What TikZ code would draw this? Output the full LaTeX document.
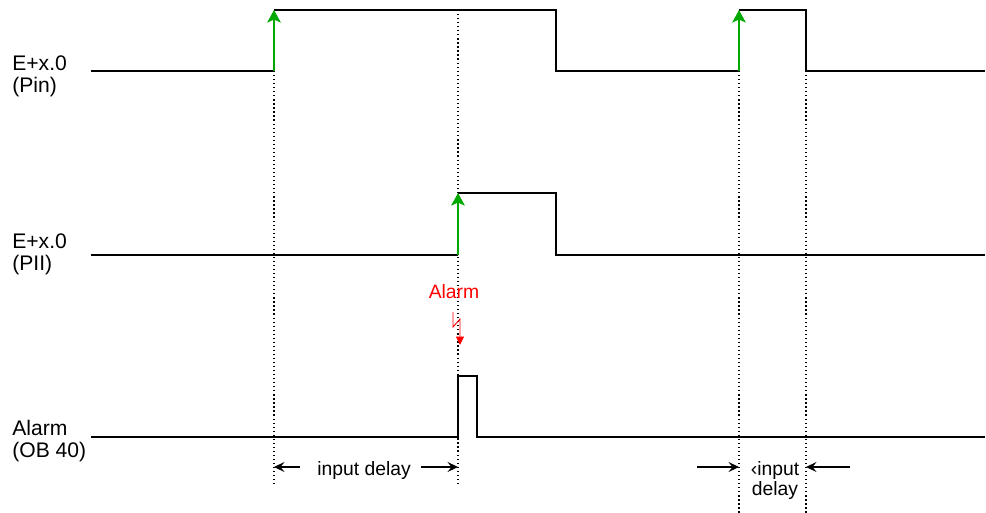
\documentclass[tikz,border=0pt]{standalone}
\usepackage{fontspec}
\setmainfont{Liberation Sans}
\usetikzlibrary{arrows.meta,positioning}
\definecolor{edgegreen}{HTML}{00A800}
\definecolor{alarmred}{HTML}{FF0000}

\begin{document}
\begin{tikzpicture}[x=0.02cm,y=-0.02cm,
  wave/.style={line width=1.15pt,line join=miter},
  rise/.style={edgegreen,line width=1.4pt,-{Stealth[length=0.25cm,width=0.27cm,inset=0.06cm]}},
  guide/.style={line width=0.6pt,dash pattern=on 0.7pt off 1.6pt},
  span/.style={line width=0.6pt,-{Stealth[length=0.21cm,width=0.2cm,inset=0.08cm]}},
  lbl/.style={font=\fontsize{12}{12.6}\selectfont,inner sep=0pt,align=left},
  note/.style={font=\fontsize{11}{11.4}\selectfont,inner sep=0pt,align=center}]
\useasboundingbox (0,0) rectangle (986,513);

% dotted guides
\coordinate (ga) at (274,71);  \coordinate (gaend) at (274,485);
\coordinate (gb) at (458,10);  \coordinate (gbend) at (458,485);
\coordinate (gc) at (739,71);  \coordinate (gcend) at (739,513);
\coordinate (gd) at (806,71);  \coordinate (gdend) at (806,513);
\foreach \g in {ga,gb,gc,gd}
  \draw[guide] (\g) -- (\g end);

% signal labels
\node[lbl,anchor=north west] (pin) at (12,55) {E+x.0\\(Pin)};
\node[lbl,anchor=north west] (pii) at (12,233) {E+x.0\\(PII)};
\node[lbl,anchor=north west] (ob) at (12,420) {Alarm\\(OB 40)};

% E+x.0 (Pin)
\coordinate (pa) at (274,71); \coordinate (pah) at (274,10);
\coordinate (pb) at (739,71); \coordinate (pbh) at (739,10);
\draw[wave] (91,71) -- (pa);
\draw[wave] (pah) -- (556,10) -- (556,71) -- (pb);
\draw[wave] (pbh) -- (806,10) -- (806,71) -- (985,71);
\draw[rise] (pa) -- (pah);
\draw[rise] (pb) -- (pbh);

% E+x.0 (PII)
\coordinate (ia) at (458,255); \coordinate (iah) at (458,193);
\draw[wave] (91,255) -- (ia);
\draw[wave] (iah) -- (556,193) -- (556,255) -- (985,255);
\draw[rise] (ia) -- (iah);

% Alarm (OB 40)
\draw[wave] (91,437) -- (458,437) -- (458,376) -- (477,376) -- (477,437) -- (985,437);

% interrupt
\node[note,text=alarmred,anchor=base] (alarm) at (454,298) {Alarm};
\coordinate (bolt) at (453,312);
\coordinate (hit) at (460,345);
\draw[alarmred,line width=0.5pt,-{Triangle[length=0.17cm,width=0.16cm]}]
  (bolt) -- (453,327) -- (460,319) -- (hit);

% input delays
\node[note,anchor=base] (dl1) at (364,475) {input delay};
\coordinate (dl1l) at (300,467); \coordinate (dl1r) at (421,467);
\draw[span] (dl1l) -- (274,467);
\draw[span] (dl1r) -- (458,467);
\node[note,anchor=north] (dl2) at (775,461) {‹input\\delay};
\coordinate (dl2l) at (697,467); \coordinate (dl2r) at (850,467);
\draw[span] (dl2l) -- (739,467);
\draw[span] (dl2r) -- (806,467);
\end{tikzpicture}
\end{document}
